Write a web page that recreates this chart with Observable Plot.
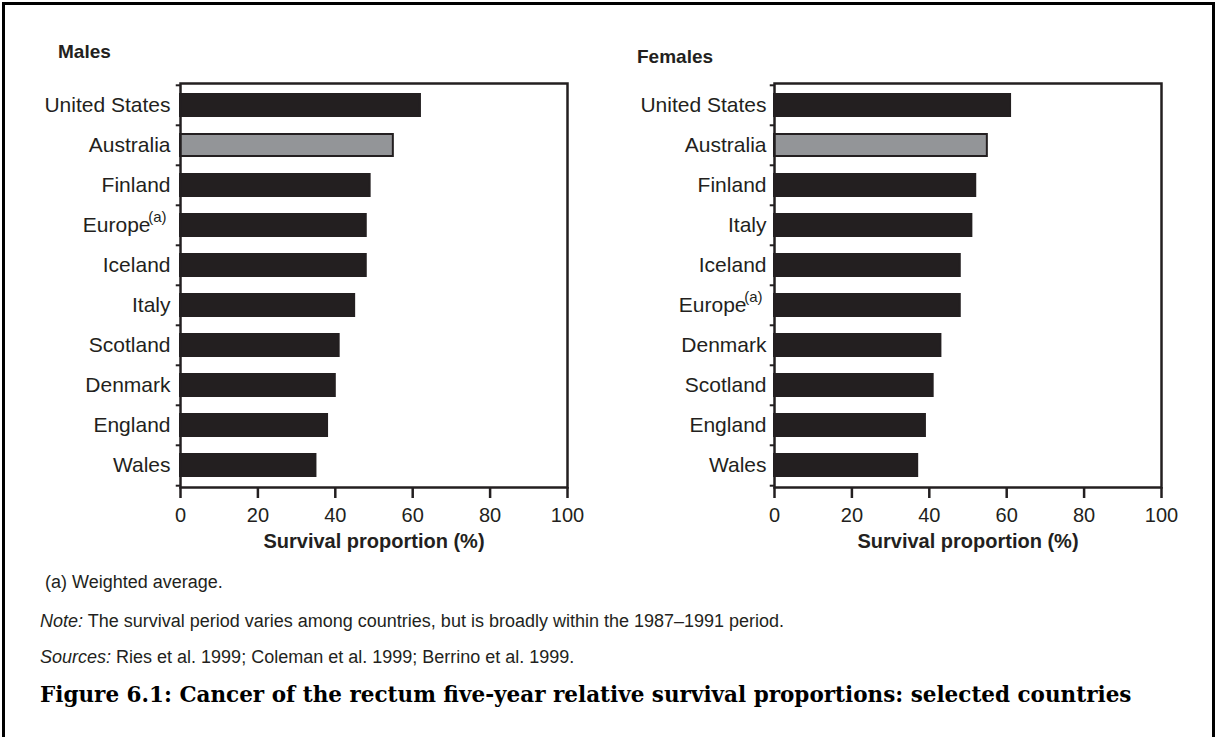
<!DOCTYPE html>
<html>
<head>
<meta charset="utf-8">
<script src="https://cdn.jsdelivr.net/npm/d3@7"></script>
<script src="https://cdn.jsdelivr.net/npm/@observablehq/plot@0.6"></script>
<style>
  html, body { margin: 0; padding: 0; background: #fff; }
  #page { position: relative; width: 1217px; height: 737px; overflow: hidden; font-family: "Liberation Sans", Arial, sans-serif; color: #231f20; }
  #border { position: absolute; left: 2px; top: 2px; width: 1213px; height: 800px; box-sizing: border-box; border: 3px solid #000; }
  .abs { position: absolute; white-space: nowrap; line-height: 1; }
  .ptitle { font-weight: bold; font-size: 19px; }
  .foot { font-size: 18px; }
  .fig { font-family: "DejaVu Serif", serif; font-weight: bold; font-size: 21.5px; color: #000; }
  .chart { position: absolute; top: 70px; }
</style>
</head>
<body>
<div id="page">
  <div id="border"></div>
  <div class="abs ptitle" id="tMale" style="left:58px; top:42px;"></div>
  <div class="abs ptitle" id="tFemale" style="left:637px; top:47px;"></div>
  <div class="chart" id="male" style="left:0px;"></div>
  <div class="chart" id="female" style="left:594px;"></div>
  <div class="abs foot" id="fnA" style="left:45px; top:573px;"></div>
  <div class="abs foot" id="fnNote" style="left:40px; top:612px;"></div>
  <div class="abs foot" id="fnSrc" style="left:40px; top:648px;"></div>
  <div class="abs fig" id="figTitle" style="left:40px; top:684px;"></div>
</div>
<script>
// ---- data ----
const maleCountries = ["United States", "Australia", "Finland", "Europe", "Iceland", "Italy", "Scotland", "Denmark", "England", "Wales"];
const maleValues = [62, 55, 49, 48, 48, 45, 41, 40, 38, 35];
const femaleCountries = ["United States", "Australia", "Finland", "Italy", "Iceland", "Europe", "Denmark", "Scotland", "England", "Wales"];
const femaleValues = [61, 55, 52, 51, 48, 48, 43, 41, 39, 37];
const xTicks = [0, 20, 40, 60, 80, 100];
const panelTitles = ["Males", "Females"];
const xLabel = "Survival proportion (%)";
const highlightCountry = "Australia";
const footnoteCountry = "Europe";
const footnoteMark = "(a)";
const footA = "(a) Weighted average.";
const noteLead = "Note:";
const noteText = " The survival period varies among countries, but is broadly within the 1987–1991 period.";
const srcLead = "Sources:";
const srcText = " Ries et al. 1999; Coleman et al. 1999; Berrino et al. 1999.";
const figureTitle = "Figure 6.1: Cancer of the rectum five-year relative survival proportions: selected countries";

const INK = "#231f20";
const GREY = "#939598";

function panel(countries, values, labelPad) {
  const data = countries.map((c, i) => ({country: c, value: values[i]}));
  const frameH = 404;
  const step = frameH / countries.length;
  return Plot.plot({
    width: 600,
    height: 487,
    marginTop: 13,
    marginLeft: 180,
    marginRight: 33,
    marginBottom: 70,
    style: {fontFamily: "'Liberation Sans', Arial, sans-serif", color: INK, background: "transparent", overflow: "visible"},
    x: {domain: [0, 100], axis: null},
    y: {domain: countries, paddingInner: 0.46, paddingOuter: 0.23, axis: null},
    color: {type: "identity"},
    marks: [
      Plot.barX(data, {x: "value", y: "country", fill: d => d.country === highlightCountry ? GREY : INK, stroke: INK, strokeWidth: 2}),
      Plot.frame({stroke: INK, strokeWidth: 2.5}),
      Plot.ruleY(countries, {y: d => d, x1: -1.1, x2: 0, dy: -step / 2, stroke: INK, strokeWidth: 2}),
      Plot.ruleY(countries.slice(-1), {y: d => d, x1: -1.1, x2: 0, dy: step / 2, stroke: INK, strokeWidth: 2}),
      Plot.axisX({ticks: xTicks, tickSize: 11, tickPadding: 9, fontSize: 20, label: null, strokeWidth: 2.5, stroke: INK}),
      Plot.text(countries, {filter: d => d !== footnoteCountry, y: d => d, text: d => d, frameAnchor: "left", textAnchor: "end", dx: -labelPad, fontSize: 21, fill: INK}),
      Plot.text([footnoteCountry], {y: d => d, text: d => d, frameAnchor: "left", textAnchor: "end", dx: -labelPad - 20, fontSize: 21, fill: INK}),
      Plot.text([footnoteCountry], {y: d => d, text: () => footnoteMark, frameAnchor: "left", textAnchor: "end", dx: -labelPad - 4, dy: -8, fontSize: 15, fill: INK}),
      Plot.text([xLabel], {text: d => d, frameAnchor: "bottom", dy: 60, fontWeight: "bold", fontSize: 20, fill: INK})
    ]
  });
}

document.getElementById("male").appendChild(panel(maleCountries, maleValues, 10));
document.getElementById("female").appendChild(panel(femaleCountries, femaleValues, 8));
document.getElementById("tMale").textContent = panelTitles[0];
document.getElementById("tFemale").textContent = panelTitles[1];
document.getElementById("fnA").textContent = footA;
document.getElementById("fnNote").innerHTML = "<i>" + noteLead + "</i>" + noteText;
document.getElementById("fnSrc").innerHTML = "<i>" + srcLead + "</i>" + srcText;
document.getElementById("figTitle").textContent = figureTitle;
</script>
</body>
</html>
